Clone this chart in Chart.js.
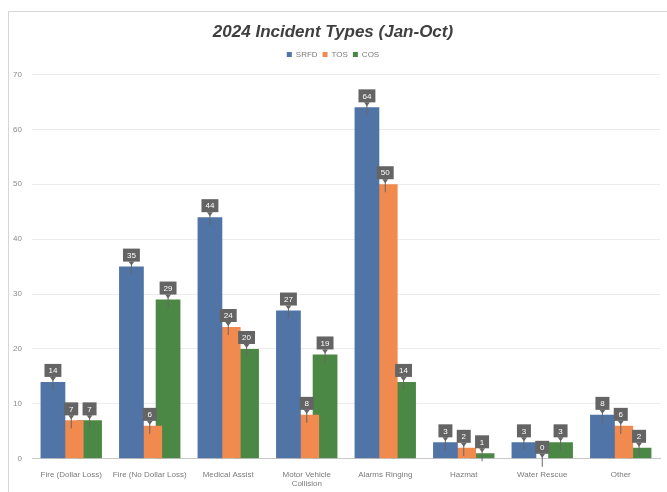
<!DOCTYPE html>
<html>
<head>
<meta charset="utf-8">
<title>2024 Incident Types</title>
<script src="https://cdn.jsdelivr.net/npm/chart.js@4.4.1/dist/chart.umd.min.js"></script>
<style>
  html, body { margin: 0; padding: 0; background: #fff; }
  #wrap { position: relative; width: 667px; height: 492px; }
  #frame { position: absolute; left: 8px; top: 11px; right: -2px; bottom: -2px; border: 1px solid #d6d6d6; }
  canvas { position: absolute; left: 0; top: 0; }
</style>
</head>
<body>
<div id="wrap">
  <div id="frame"></div>
  <canvas id="incidentChart" width="667" height="492"></canvas>
</div>
<script>
const categories = [
  'Fire (Dollar Loss)', 'Fire (No Dollar Loss)', 'Medical Assist', ['Motor Vehicle', 'Collision'],
  'Alarms Ringing', 'Hazmat', 'Water Rescue', 'Other'
];
const srfd = [14, 35, 44, 27, 64, 3, 3, 8];
const tos = [7, 6, 24, 8, 50, 2, 0, 6];
const cos = [7, 29, 20, 19, 14, 1, 3, 2];
const yTicks = [0, 10, 20, 30, 40, 50, 60, 70];

// grey callout boxes above each bar
const calloutLabels = {
  id: 'calloutLabels',
  afterDatasetsDraw(chart) {
    const ctx = chart.ctx;
    ctx.save();
    ctx.font = '8px "Liberation Sans", Arial, sans-serif';
    ctx.textAlign = 'center';
    ctx.textBaseline = 'middle';
    chart.data.datasets.forEach((ds, di) => {
      const meta = chart.getDatasetMeta(di);
      meta.data.forEach((bar, i) => {
        const txt = String(ds.data[i]);
        const w = Math.max(14, ctx.measureText(txt).width + 8);
        const h = 13;
        const bottom = bar.y - 5;
        const left = bar.x - w / 2;
        // pointer line into the bar
        ctx.strokeStyle = '#666';
        ctx.lineWidth = 1;
        ctx.beginPath();
        ctx.moveTo(bar.x, bottom);
        ctx.lineTo(bar.x, bar.y + 8);
        ctx.stroke();
        ctx.fillStyle = '#646464';
        ctx.beginPath();
        ctx.moveTo(bar.x - 3, bottom);
        ctx.lineTo(bar.x, bottom + 4);
        ctx.lineTo(bar.x + 3, bottom);
        ctx.closePath();
        ctx.fill();
        ctx.fillRect(left, bottom - h, w, h);
        ctx.fillStyle = '#fff';
        ctx.fillText(txt, bar.x, bottom - h / 2 + 0.5);
      });
    });
    ctx.restore();
  }
};

new Chart(document.getElementById('incidentChart'), {
  type: 'bar',
  data: {
    labels: categories,
    datasets: [
      { label: 'SRFD', data: srfd, backgroundColor: '#4f74a5' },
      { label: 'TOS', data: tos, backgroundColor: '#f08a4f' },
      { label: 'COS', data: cos, backgroundColor: '#4c8845' }
    ]
  },
  options: {
    responsive: false,
    animation: false,
    datasets: { bar: { categoryPercentage: 0.7, barPercentage: 1.35 } },
    layout: { padding: { left: 6, right: 7, top: 18, bottom: 0 } },
    plugins: {
      title: {
        display: true,
        text: '2024 Incident Types (Jan-Oct)',
        color: '#3f3f3f',
        font: { family: '"Liberation Sans", Arial, sans-serif', size: 17, weight: 'bold', style: 'italic' },
        padding: { top: 4, bottom: 3 }
      },
      legend: {
        labels: {
          boxWidth: 5, boxHeight: 5, padding: 5, color: '#7a7a7a',
          font: { family: '"Liberation Sans", Arial, sans-serif', size: 8 }
        }
      },
      tooltip: { enabled: false }
    },
    scales: {
      x: {
        grid: { display: false },
        border: { color: '#c8c8c8' },
        ticks: {
          color: '#7a7a7a', maxRotation: 0, autoSkip: false, padding: 3,
          font: { family: '"Liberation Sans", Arial, sans-serif', size: 8 }
        }
      },
      y: {
        min: 0, max: 70,
        afterBuildTicks(axis) { axis.ticks = yTicks.map(v => ({ value: v })); },
        afterFit(axis) { axis.width = 26; },
        grid: { color: '#ececec', drawTicks: false },
        border: { display: false },
        ticks: {
          color: '#8a8a8a', padding: 10,
          font: { family: '"Liberation Sans", Arial, sans-serif', size: 8 }
        }
      }
    }
  },
  plugins: [calloutLabels,
    {
      // extra gap between legend and plot area
      id: 'legendGap',
      beforeInit(chart) {
        const origFit = chart.legend.fit;
        chart.legend.fit = function () {
          origFit.bind(chart.legend)();
          this.height += 6;
        };
      }
    }
  ]
});
</script>
</body>
</html>
